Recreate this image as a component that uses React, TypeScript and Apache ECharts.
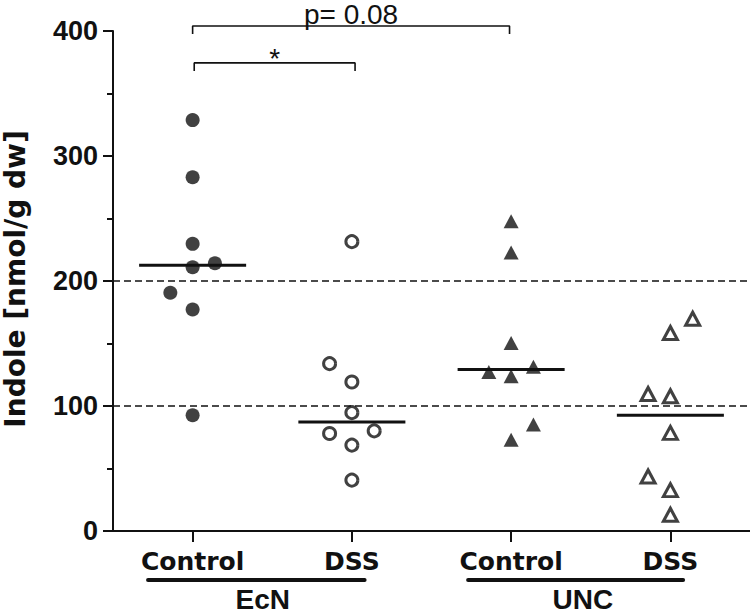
import React, { useEffect, useRef } from 'react';
import * as echarts from 'echarts';

// ---- data ----
const categories = ['Control', 'DSS', 'Control', 'DSS'];
const groupLabels = ['EcN', 'UNC'];
const groupSpans = [[0.72, 2.08], [2.73, 4.08]];
const groupLabelX = [1.44, 3.45];

const yMin = 0;
const yMax = 400;
const yInterval = 100;

// [x position (category index + jitter), value]
const ecnControl = [[1, 328.7], [1, 283], [1, 229.7], [1, 211], [1.14, 214.2], [0.86, 190.6], [1, 177.2], [1, 92.6]];
const ecnDss = [[2, 231.5], [1.86, 133.9], [2, 119.2], [2, 94.7], [1.86, 78], [2.14, 80.1], [2, 68.7], [2, 40.7]];
const uncControl = [[3, 247.8], [3, 222.8], [3, 150.4], [2.86, 127.2], [3, 123.8], [3.14, 131.5], [3.14, 85.2], [3, 73]];
const uncDss = [[4.14, 169.8], [4, 158.4], [3.86, 109.6], [4, 107.8], [4, 78.5], [3.86, 43.6], [4, 32.7], [4, 13]];

const medians = [212.6, 87.3, 129.3, 92.6];
const medianHalfWidth = 0.336;

const refLines = [100, 200];

const bracketSpans = [[1.01, 2.02], [1, 2.99]];
const bracketLevels = [374.5, 404];
const bracketLabels = ['*', 'p= 0.08'];
const bracketDrop = 6.4;

const INK = '#111111';

export default function App() {
  const ref = useRef<HTMLDivElement>(null);

  useEffect(() => {
    if (!ref.current) return;
    const chart = echarts.init(ref.current, undefined, { renderer: 'svg' });

    const scatterBase = { type: 'scatter', xAxisIndex: 1, yAxisIndex: 0, z: 5, silent: true };

    const series: any[] = [];

    refLines.forEach((v) => {
      series.push({
        type: 'line', xAxisIndex: 1, yAxisIndex: 0, z: 1, silent: true,
        symbol: 'none', data: [[0.5, v], [4.5, v]],
        lineStyle: { color: INK, width: 1.5, type: [7, 4] },
      });
    });

    medians.forEach((m, i) => {
      series.push({
        type: 'line', xAxisIndex: 1, yAxisIndex: 0, z: 3, silent: true,
        symbol: 'none', data: [[i + 1 - medianHalfWidth, m], [i + 1 + medianHalfWidth, m]],
        lineStyle: { color: INK, width: 3 },
      });
    });

    bracketSpans.forEach(([a, b], i) => {
      const L = bracketLevels[i];
      series.push({
        type: 'line', xAxisIndex: 1, yAxisIndex: 0, z: 3, silent: true, clip: false,
        symbol: 'none', data: [[a, L - bracketDrop], [a, L], [b, L], [b, L - bracketDrop]],
        lineStyle: { color: INK, width: 1.6 },
      });
    });

    series.push(
      { ...scatterBase, name: 'EcN Control', data: ecnControl, symbol: 'circle', symbolSize: 14,
        itemStyle: { color: INK } },
      { ...scatterBase, name: 'EcN DSS', data: ecnDss, symbol: 'circle', symbolSize: 12,
        itemStyle: { color: '#fff', borderColor: INK, borderWidth: 3 } },
      { ...scatterBase, name: 'UNC Control', data: uncControl, symbol: 'triangle', symbolSize: [15, 14],
        itemStyle: { color: INK } },
      { ...scatterBase, name: 'UNC DSS', data: uncDss, symbol: 'triangle', symbolSize: [14, 13],
        itemStyle: { color: '#fff', borderColor: INK, borderWidth: 3 } },
    );

    chart.setOption({
      animation: false,
      backgroundColor: '#fff',
      grid: { left: 113, right: 0, top: 31, bottom: 85, containLabel: false },
      xAxis: [
        {
          type: 'category', data: categories, position: 'bottom',
          axisLine: { show: true, lineStyle: { color: INK, width: 2 } },
          axisTick: { show: true, alignWithLabel: true, length: 11, lineStyle: { color: INK, width: 2 } },
          axisLabel: { color: INK, fontFamily: 'DejaVu Sans', fontWeight: 'bold', fontSize: 25, margin: 18 },
          splitLine: { show: false },
        },
        { type: 'value', min: 0.5, max: 4.5, show: false },
      ],
      yAxis: {
        type: 'value', min: yMin, max: yMax, interval: yInterval,
        axisLine: { show: true, lineStyle: { color: INK, width: 2 } },
        axisTick: { show: true, length: 10, lineStyle: { color: INK, width: 2 } },
        minorTick: { show: true, splitNumber: 2, length: 6, lineStyle: { color: INK, width: 2 } },
        minorSplitLine: { show: false },
        splitLine: { show: false },
        axisLabel: { color: INK, fontFamily: 'Liberation Sans', fontWeight: 'bold', fontSize: 27, margin: 15 },
      },
      series,
    });

    const toPx = (x: number, y: number) => chart.convertToPixel({ seriesIndex: series.length - 1 }, [x, y]) as number[];

    const y0 = toPx(1, yMin)[1];
    const yTop = toPx(1, yMax)[1];
    const graphics: any[] = [];

    // y axis title
    graphics.push({
      type: 'text', x: 15, y: (y0 + yTop) / 2 - 2, rotation: Math.PI / 2,
      style: {
        text: 'Indole [nmol/g dw]', fill: INK, align: 'center', verticalAlign: 'middle',
        font: 'bold 28px "DejaVu Sans"',
      },
    });

    // bracket labels
    bracketSpans.forEach(([a, b], i) => {
      const p = toPx((a + b) / 2, bracketLevels[i]);
      const isStar = bracketLabels[i] === '*';
      graphics.push({
        type: 'text', x: p[0], y: isStar ? p[1] - 4 : p[1] - 12,
        style: {
          text: bracketLabels[i], fill: INK, align: 'center', verticalAlign: 'middle',
          font: '28px "Liberation Sans"',
        },
      });
    });

    // group underline and labels
    groupLabels.forEach((g, i) => {
      const [a, b] = groupSpans[i];
      const pa = toPx(a, yMin);
      const pb = toPx(b, yMin);
      const pl = toPx(groupLabelX[i], yMin);
      graphics.push({
        type: 'line', shape: { x1: pa[0], y1: y0 + 49, x2: pb[0], y2: y0 + 49 },
        style: { stroke: INK, lineWidth: 4, lineCap: 'round' },
      });
      graphics.push({
        type: 'text', x: pl[0], y: y0 + 68,
        style: {
          text: g, fill: INK, align: 'center', verticalAlign: 'middle',
          font: 'bold 28px "Liberation Sans"',
        },
      });
    });

    chart.setOption({ graphic: graphics });

    return () => chart.dispose();
  }, []);

  return (
    <div
      ref={ref}
      style={{ position: 'fixed', left: 0, top: 0, width: 750, height: 616, background: '#fff' }}
    />
  );
}
